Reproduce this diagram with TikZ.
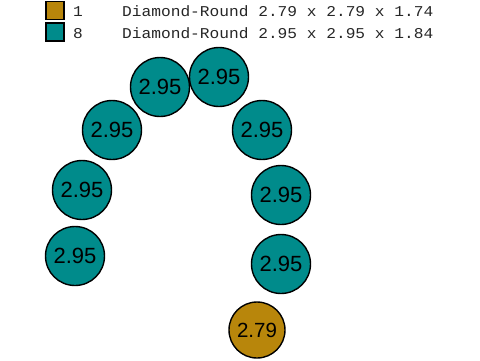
\documentclass[tikz,border=0pt]{standalone}
\usepackage{fontspec}
\usepackage{graphicx}
\setmainfont{Liberation Sans}
\newfontfamily\legfont{Liberation Mono}
\definecolor{gold}{HTML}{B8860B}
\definecolor{teal2}{HTML}{008B8B}
\begin{document}
\begin{tikzpicture}[x=1pt,y=-1pt,
  ball/.style={circle,draw=black,line width=1.4pt,inner sep=0pt,minimum size=59pt,fill=teal2,font=\fontsize{22}{22}\selectfont},
  smallball/.style={ball,fill=gold,minimum size=56pt,font=\fontsize{20.5}{20.5}\selectfont},
  legbox/.style={draw=black,line width=1.6pt,minimum size=18pt,inner sep=0pt},
  legtext/.style={anchor=base west,inner sep=0pt,font=\legfont\fontsize{15}{15}\selectfont,text=black!85}]
\useasboundingbox (0,0) rectangle (480,360);
\node[legbox,fill=gold] (k1) at (55,10.5) {};
\node[legbox,fill=teal2] (k2) at (55,32) {};
\node[legtext] (n1) at (73,16.5) {\scalebox{1.08}[1]{1}};
\node[legtext] (n2) at (73,38) {\scalebox{1.08}[1]{8}};
\node[legtext] (t1) at (122,16.5) {\scalebox{1.08}[1]{Diamond-Round 2.79 x 2.79 x 1.74}};
\node[legtext] (t2) at (122,38) {\scalebox{1.08}[1]{Diamond-Round 2.95 x 2.95 x 1.84}};
\node[ball] (a) at (75,256) {2.95};
\node[ball] (b) at (82,190) {2.95};
\node[ball] (c) at (112,130) {2.95};
\node[ball] (d) at (160,87) {2.95};
\node[ball] (e) at (219,77) {2.95};
\node[ball] (f) at (262,130) {2.95};
\node[ball] (g) at (281,195) {2.95};
\node[ball] (h) at (281,264) {2.95};
\node[smallball] (i) at (257,330) {2.79};
\end{tikzpicture}
\end{document}
